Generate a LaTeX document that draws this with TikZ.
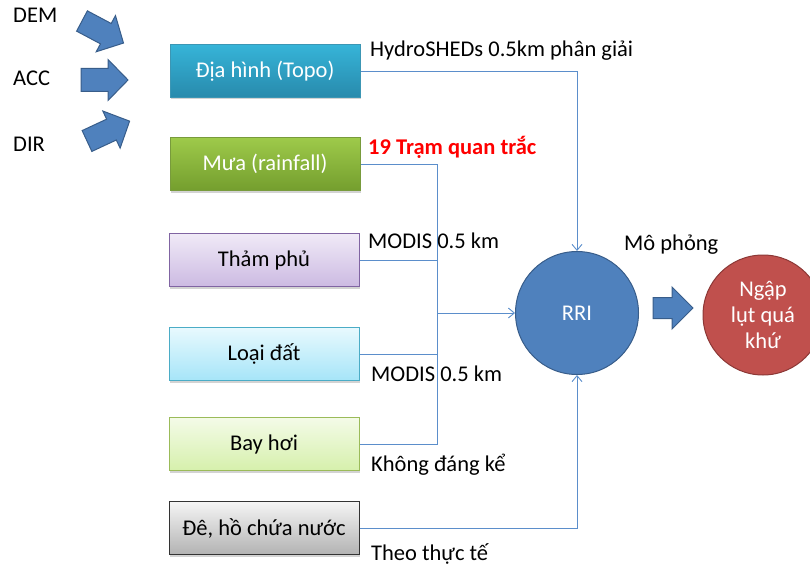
\documentclass[tikz,border=0pt]{standalone}
\usepackage{fontspec}
\setmainfont{Carlito}
\usetikzlibrary{shadows,arrows.meta}
\definecolor{abl}{HTML}{4F81BD}
\definecolor{abd}{HTML}{385D8A}
\definecolor{lnc}{HTML}{5B8ECB}
\definecolor{redc}{HTML}{C0504D}
\definecolor{redd}{HTML}{8C3836}
\begin{document}
\begin{tikzpicture}[x=1pt,y=-1pt,
  font=\fontsize{22.5}{27}\selectfont,
  box/.style={draw, line width=1pt, minimum width=190pt, minimum height=53pt, inner sep=0pt,
    drop shadow={shadow xshift=1.2pt, shadow yshift=-2pt, opacity=0.35}},
  conn/.style={draw=lnc, line width=0.9pt},
  arr/.style={conn, -{Straight Barb[length=6pt,width=10pt]}},
  lbl/.style={anchor=base west, inner sep=0pt},
  barrowsty/.style={fill=abl, draw=abd, line width=1pt, line join=miter},
  pics/barr/.style n args={4}{code={
    \filldraw[barrowsty] (0,-#2) -- (#4,-#2) -- (#4,-#3) -- (#1,0) -- (#4,#3) -- (#4,#2) -- (0,#2) -- cycle;}}
]
\useasboundingbox (0,0) rectangle (810,567);

% input boxes
\node[box, draw={rgb,255:red,60;green,150;blue,180}, text=white,
  top color={rgb,255:red,54;green,180;blue,216}, bottom color={rgb,255:red,40;green,138;blue,172}] (topo) at (265,71) {Địa hình (Topo)};
\node[box, draw={rgb,255:red,120;green,155;blue,60}, top color={rgb,255:red,158;green,202;blue,74}, bottom color={rgb,255:red,116;green,158;blue,46}, text=white] (mua) at (265,164) {Mưa (rainfall)};
\node[box, draw={rgb,255:red,128;green,100;blue,162}, top color={rgb,255:red,240;green,234;blue,247}, bottom color={rgb,255:red,204;green,186;blue,226}] (tham) at (264,260) {Thảm phủ};
\node[box, draw={rgb,255:red,75;green,172;blue,198}, top color={rgb,255:red,232;green,249;blue,254}, bottom color={rgb,255:red,166;green,229;blue,248}] (loai) at (264,354) {Loại đất};
\node[box, draw={rgb,255:red,155;green,187;blue,89}, top color={rgb,255:red,244;green,251;blue,232}, bottom color={rgb,255:red,214;green,240;blue,172}] (bay) at (264,444) {Bay hơi};
\node[box, draw=black!80, top color=black!4, bottom color=black!30] (de) at (264,528) {Đê, hồ chứa nước};

% circles
\node[circle, minimum size=123pt, inner sep=0pt, fill=abl, draw=abd, line width=1pt, text=white] (rri) at (577,313) {RRI};
\node[circle, minimum size=120pt, inner sep=0pt, fill=redc, draw=redd, line width=1pt, text=white,
  align=center, font=\fontsize{22.5}{26}\selectfont] (ngap) at (763,315) {Ngập\\lụt quá\\khứ};

% trunk
\coordinate (tk) at (437,313);

% connectors
\draw[arr] (topo.east) -- (topo.east -| rri.north) -- (rri.north);
\draw[conn] (mua.east) -- (mua.east -| tk) -- (bay.east -| tk) -- (bay.east);
\draw[conn] (tham.east) -- (tham.east -| tk);
\draw[conn] (loai.east) -- (loai.east -| tk);
\draw[arr] (tk) -- (rri.west);
\draw[arr] (de.east) -- (de.east -| rri.south) -- (rri.south);

% block arrows
\pic[rotate=-28] at (82,21) {barr={47}{11.5}{20.5}{27}};
\pic at (81,80) {barr={47}{11.5}{20.5}{27}};
\pic[rotate=25] at (87,141) {barr={47}{11.5}{20.5}{27}};
\pic at (653,308) {barr={40}{10.5}{21}{19}};

% labels
\node[lbl] (tdem) at (13,23) {DEM};
\node[lbl] (tacc) at (13,86) {ACC};
\node[lbl] (tdir) at (13,151) {DIR};
\node[lbl] (thydro) at (370,57) {HydroSHEDs 0.5km phân giải};
\node[lbl, text=red, font=\fontsize{22.5}{27}\selectfont\bfseries] (ttram) at (368,154) {19 Trạm quan trắc};
\node[lbl] (tmod1) at (368,248) {MODIS 0.5 km};
\node[lbl] (tmod2) at (371,381) {MODIS 0.5 km};
\node[lbl] (tkhong) at (371,471) {Không đáng kể};
\node[lbl] (ttheo) at (371,560) {Theo thực tế};
\node[lbl] (tmo) at (624,250) {Mô phỏng};
\end{tikzpicture}
\end{document}
